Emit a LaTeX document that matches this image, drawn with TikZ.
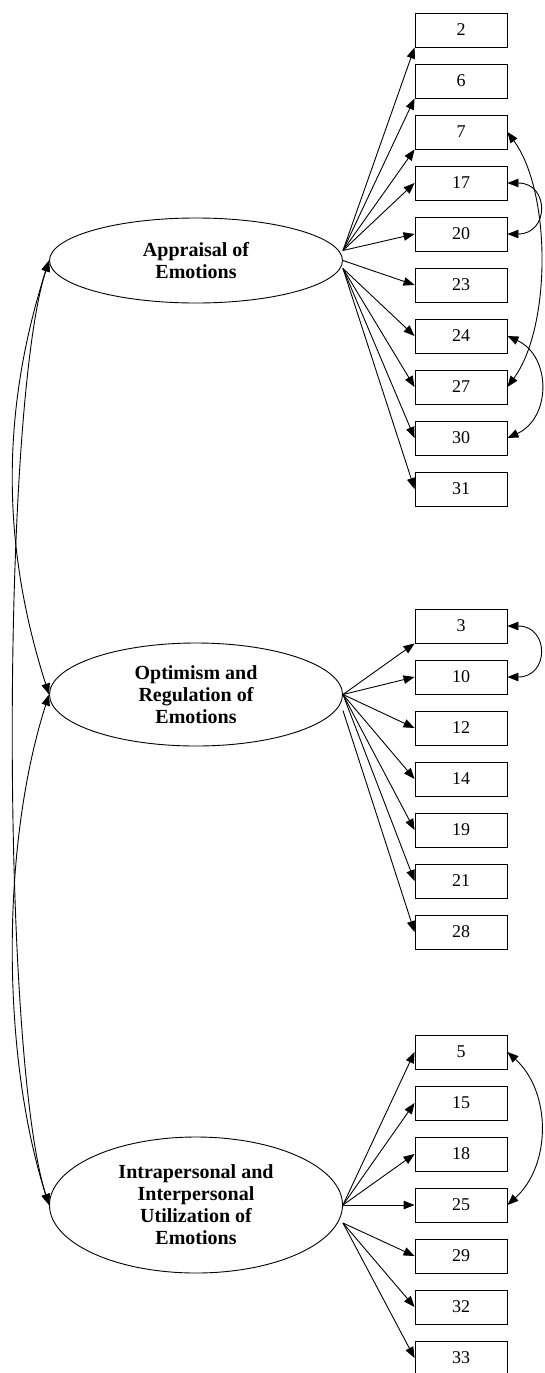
\documentclass[tikz,border=0pt]{standalone}
\usepackage{fontspec}
\setmainfont{Liberation Serif}
\usepackage{tikz}
\usetikzlibrary{positioning}
\usetikzlibrary{shapes.geometric}
\usetikzlibrary{arrows.meta}

\begin{document}
\begin{tikzpicture}[x=1pt, y=-1pt, line width=.9pt,
    >={Triangle[length=11pt,width=8.5pt]},
    item/.style={draw, minimum width=92pt, minimum height=34pt, inner sep=0pt,
        font=\fontsize{18}{20}\selectfont},
    factor/.style={draw, ellipse, minimum width=293pt, inner sep=0pt, align=center,
        font=\bfseries\fontsize{20}{22}\selectfont}]
    \useasboundingbox (0,0) rectangle (544,1373);

    \node[factor, minimum height=85pt] (appr) at (196, 260.5) {Appraisal of\\Emotions};
    \node[factor, minimum height=103pt] (optim) at (196, 694.5) {Optimism and\\Regulation of\\Emotions};
    \node[factor, minimum height=136pt] (util) at (196, 1205) {Intrapersonal and\\Interpersonal\\Utilization of\\Emotions};

    \foreach \n [count=\i] in {2,6,7,17,20,23,24,27,30,31}
        \node[item] (v\n) at (461, {-21 + 51 * \i}) {\n};

    \foreach \n [count=\i] in {3,10,12,14,19,21,28}
        \node[item] (v\n) at (461, {575 + 51 * \i}) {\n};

    \foreach \n [count=\i] in {5,15,18,25,29,32,33}
        \node[item] (v\n) at (461, {1001 + 51 * \i}) {\n};

    \coordinate[above=10pt of appr.east] (a1);
    \coordinate[below=8pt of appr.east] (a2);
    \coordinate[below=16pt of optim.east] (o2);
    \coordinate[below=18pt of util.east] (u2);

    \path[->]
        (a1) edge (v2.south west)
        (a1) edge (v6.south west)
        (a1) edge (v7.south west)
        (a1) edge (v17.west)
        (a1) edge (v20.west)
        (appr.east) edge (v23.west)
        (a2) edge (v24.west)
        (a2) edge (v27.west)
        (a2) edge (v30.west)
        (a2) edge (v31.west);

    \path[->]
        (optim.east) edge (v3.south west)
        (optim.east) edge (v10.west)
        (optim.east) edge (v12.west)
        (optim.east) edge (v14.west)
        (optim.east) edge (v19.west)
        (optim.east) edge (v21.west)
        (o2) edge (v28.west);

    \path[->]
        (util.east) edge (v5.west)
        (util.east) edge (v15.west)
        (util.east) edge (v18.west)
        (util.east) edge (v25.west)
        (u2) edge (v29.west)
        (u2) edge (v32.west)
        (u2) edge (v33.west);

    \draw[<->] (v7.east) .. controls +(44,60) and +(44,-60) .. (v27.east);
    \draw[<->] (v17.east) .. controls +(42,0) and +(42,0) .. (v20.east);
    \draw[<->] (v24.east) .. controls +(44,20) and +(44,-20) .. (v30.east);
    \draw[<->] (v3.east) .. controls +(42,0) and +(42,0) .. (v10.east);
    \draw[<->] (v5.east) .. controls +(44,40) and +(44,-40) .. (v25.east);

    \draw[<->] (appr.west) .. controls +(-48,150) and +(-48,-150) .. (optim.west);
    \draw[<->] (appr.west) .. controls +(-48,150) and +(-48,-150) .. (util.west);
    \draw[<->] (optim.west) .. controls +(-48,150) and +(-48,-150) .. (util.west);
\end{tikzpicture}
\end{document}
